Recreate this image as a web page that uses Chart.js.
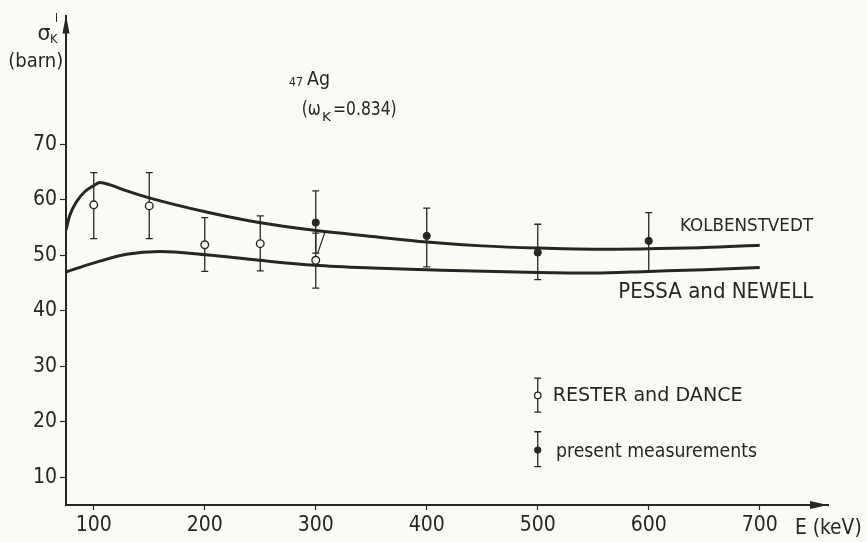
<!DOCTYPE html>
<html><head><meta charset="utf-8">
<script src="https://cdn.jsdelivr.net/npm/chart.js@4.4.1/dist/chart.umd.min.js"></script>
<style>
html,body{margin:0;padding:0;background:#fbfbf6;overflow:hidden;}
#wrap{width:867px;height:542px;position:relative;}
</style>
</head><body>
<div id="wrap"><canvas id="c" width="867" height="542"></canvas></div>
<script>
// ---- data ----
const kolbE   = [75, 78.6, 84.6, 92.1, 99.6, 105.6, 114.6, 129.7, 149.1, 201.4, 249, 298.8, 351, 400, 450, 500, 550, 600, 650, 700];
const kolbVal = [54.6, 57.3, 59.7, 61.5, 62.5, 63.1, 62.7, 61.6, 60.4, 57.8, 55.9, 54.5, 53.4, 52.4, 51.7, 51.3, 51.1, 51.2, 51.4, 51.8];

const pessaE   = [75, 99.6, 129.7, 159.7, 201, 249, 299, 351, 400, 500, 550, 600, 650, 700];
const pessaVal = [47.0, 48.6, 50.2, 50.7, 50.1, 49.1, 48.2, 47.7, 47.4, 46.9, 46.8, 47.1, 47.4, 47.8];

const resterE    = [100, 150, 200, 250, 300];
const resterVal  = [59.1, 58.9, 51.9, 52.1, 49.1];
const resterLow  = [53.0, 53.0, 47.1, 47.2, 44.1];
const resterHigh = [64.9, 64.9, 56.8, 57.1, 54.0];

const presentE    = [300, 400, 500, 600];
const presentVal  = [55.9, 53.5, 50.5, 52.6];
const presentLow  = [50.4, 47.9, 45.6, 47.1];
const presentHigh = [61.6, 58.5, 55.6, 57.7];

const leaderE   = [301.8, 308.3];
const leaderVal = [50.4, 54.2];

const keyE          = [500];
const keyOpenVal    = [24.75];
const keyOpenLow    = [21.75];
const keyOpenHigh   = [27.85];
const keyFilledVal  = [14.9];
const keyFilledLow  = [11.9];
const keyFilledHigh = [18.2];

const xTicks = [100, 200, 300, 400, 500, 600, 700];
const yTicks = [10, 20, 30, 40, 50, 60, 70];

const curveNames = ['KOLBENSTVEDT', 'PESSA and NEWELL'];
const keyNames   = ['RESTER and DANCE', 'present measurements'];

// ---- styles ----
const INK = '#262626';
const PAPER = '#fbfbf6';
const FONT = "'Liberation Sans Narrow','DejaVu Sans Condensed','Roboto Condensed',Roboto,sans-serif";

const pts = (xs, ys) => xs.map((x, i) => ({x, y: ys[i]}));

function fitText(ctx, text, x, y, width, size, baseline) {
  ctx.save();
  ctx.font = size + 'px ' + FONT;
  ctx.textBaseline = baseline || 'alphabetic';
  ctx.textAlign = 'left';
  const w = ctx.measureText(text).width;
  ctx.translate(x, y);
  ctx.scale(width / w, 1);
  ctx.fillText(text, 0, 0);
  ctx.restore();
}

const decor = {
  id: 'decor',
  beforeDraw(chart) {
    const c = chart.ctx;
    c.save();
    c.fillStyle = PAPER;
    c.fillRect(0, 0, chart.width, chart.height);
    c.restore();
  },
  beforeDatasetsDraw(chart) {
    const c = chart.ctx, xs = chart.scales.x, ys = chart.scales.y;
    c.save();
    c.strokeStyle = INK;
    c.lineWidth = 1.3;
    chart.data.datasets.forEach(ds => {
      if (!ds.errLow) return;
      ds.data.forEach((p, i) => {
        const px = xs.getPixelForValue(p.x);
        const y1 = ys.getPixelForValue(ds.errLow[i]);
        const y2 = ys.getPixelForValue(ds.errHigh[i]);
        c.beginPath();
        c.moveTo(px, y1); c.lineTo(px, y2);
        c.moveTo(px - 3.5, y1); c.lineTo(px + 3.5, y1);
        c.moveTo(px - 3.5, y2); c.lineTo(px + 3.5, y2);
        c.stroke();
      });
    });
    c.restore();
  },
  afterDraw(chart) {
    const c = chart.ctx, a = chart.chartArea;
    c.save();
    c.fillStyle = INK;
    // y arrow
    c.beginPath();
    c.moveTo(a.left, a.top - 1);
    c.lineTo(a.left - 3.5, a.top + 18);
    c.lineTo(a.left + 3.5, a.top + 18);
    c.closePath(); c.fill();
    // x arrow
    c.beginPath();
    c.moveTo(a.right, a.bottom);
    c.lineTo(a.right - 18, a.bottom - 4);
    c.lineTo(a.right - 18, a.bottom + 4);
    c.closePath(); c.fill();

    // curve labels
    fitText(c, curveNames[0], 680, 231, 133, 18);
    fitText(c, curveNames[1], 618.3, 298.3, 195, 21);
    // key labels
    fitText(c, keyNames[0], 552.7, 401, 190, 20);
    fitText(c, keyNames[1], 556, 456.7, 201, 20);

    // element label
    fitText(c, '47', 289, 86, 14, 12);
    fitText(c, 'Ag', 307, 84.5, 23, 19);
    // (ωK=0.834)
    fitText(c, '(ω', 301.7, 115, 19, 20);
    fitText(c, 'K', 322, 121, 9, 13);
    fitText(c, '=0.834)', 333, 115, 63.7, 20);

    // y title
    fitText(c, 'σ', 37.5, 39.5, 13, 22);
    fitText(c, 'K', 50, 42.5, 7.5, 12);
    fitText(c, 'I', 55, 21.7, 3, 12);
    fitText(c, '(barn)', 8.3, 66.5, 55, 20);

    // x title
    fitText(c, 'E (keV)', 795, 534.3, 66.7, 21);
    c.restore();
  }
};

new Chart(document.getElementById('c'), {
  type: 'scatter',
  data: {
    datasets: [
      { label: 'RESTER and DANCE', data: pts(resterE, resterVal), errLow: resterLow, errHigh: resterHigh,
        pointRadius: 3.8, pointBorderWidth: 1.4, pointBackgroundColor: PAPER, pointBorderColor: INK, order: 0 },
      { label: 'present measurements', data: pts(presentE, presentVal), errLow: presentLow, errHigh: presentHigh,
        pointRadius: 3.6, pointBorderWidth: 1, pointBackgroundColor: INK, pointBorderColor: INK, order: 0 },
      { label: 'key open', data: pts(keyE, keyOpenVal), errLow: keyOpenLow, errHigh: keyOpenHigh,
        pointRadius: 3.2, pointBorderWidth: 1.3, pointBackgroundColor: PAPER, pointBorderColor: INK, order: 0 },
      { label: 'key filled', data: pts(keyE, keyFilledVal), errLow: keyFilledLow, errHigh: keyFilledHigh,
        pointRadius: 3.2, pointBorderWidth: 1, pointBackgroundColor: INK, pointBorderColor: INK, order: 0 },
      { label: 'KOLBENSTVEDT', data: pts(kolbE, kolbVal), showLine: true, borderColor: INK, borderWidth: 3,
        pointRadius: 0, cubicInterpolationMode: 'monotone', order: 2 },
      { label: 'PESSA and NEWELL', data: pts(pessaE, pessaVal), showLine: true, borderColor: INK, borderWidth: 3,
        pointRadius: 0, cubicInterpolationMode: 'monotone', order: 2 },
      { label: 'leader', data: pts(leaderE, leaderVal), showLine: true, borderColor: INK, borderWidth: 1.2,
        pointRadius: 0, order: 1 }
    ]
  },
  options: {
    responsive: false,
    animation: false,
    events: [],
    layout: { padding: { top: 13, right: 39, left: 0, bottom: 0 } },
    plugins: { legend: { display: false }, tooltip: { enabled: false } },
    scales: {
      x: {
        type: 'linear', min: 75, max: 761.5,
        afterBuildTicks: s => { s.ticks = xTicks.map(v => ({value: v})); },
        afterFit: s => { s.height = 37; },
        grid: { display: true, drawOnChartArea: false, drawTicks: true, tickLength: 5, tickColor: INK, tickWidth: 1.2, color: INK },
        border: { display: true, color: INK, width: 2 },
        ticks: { color: INK, font: { family: FONT, size: 21 }, padding: 3, maxRotation: 0, autoSkip: false }
      },
      y: {
        type: 'linear', min: 5, max: 93.2,
        afterBuildTicks: s => { s.ticks = yTicks.map(v => ({value: v})); },
        afterFit: s => { s.width = 66; },
        grid: { display: true, drawOnChartArea: false, drawTicks: true, tickLength: 6, tickColor: INK, tickWidth: 1.2, color: INK },
        border: { display: true, color: INK, width: 2 },
        ticks: { color: INK, font: { family: FONT, size: 21 }, padding: 3, autoSkip: false }
      }
    }
  },
  plugins: [decor]
});
</script>
</body></html>
